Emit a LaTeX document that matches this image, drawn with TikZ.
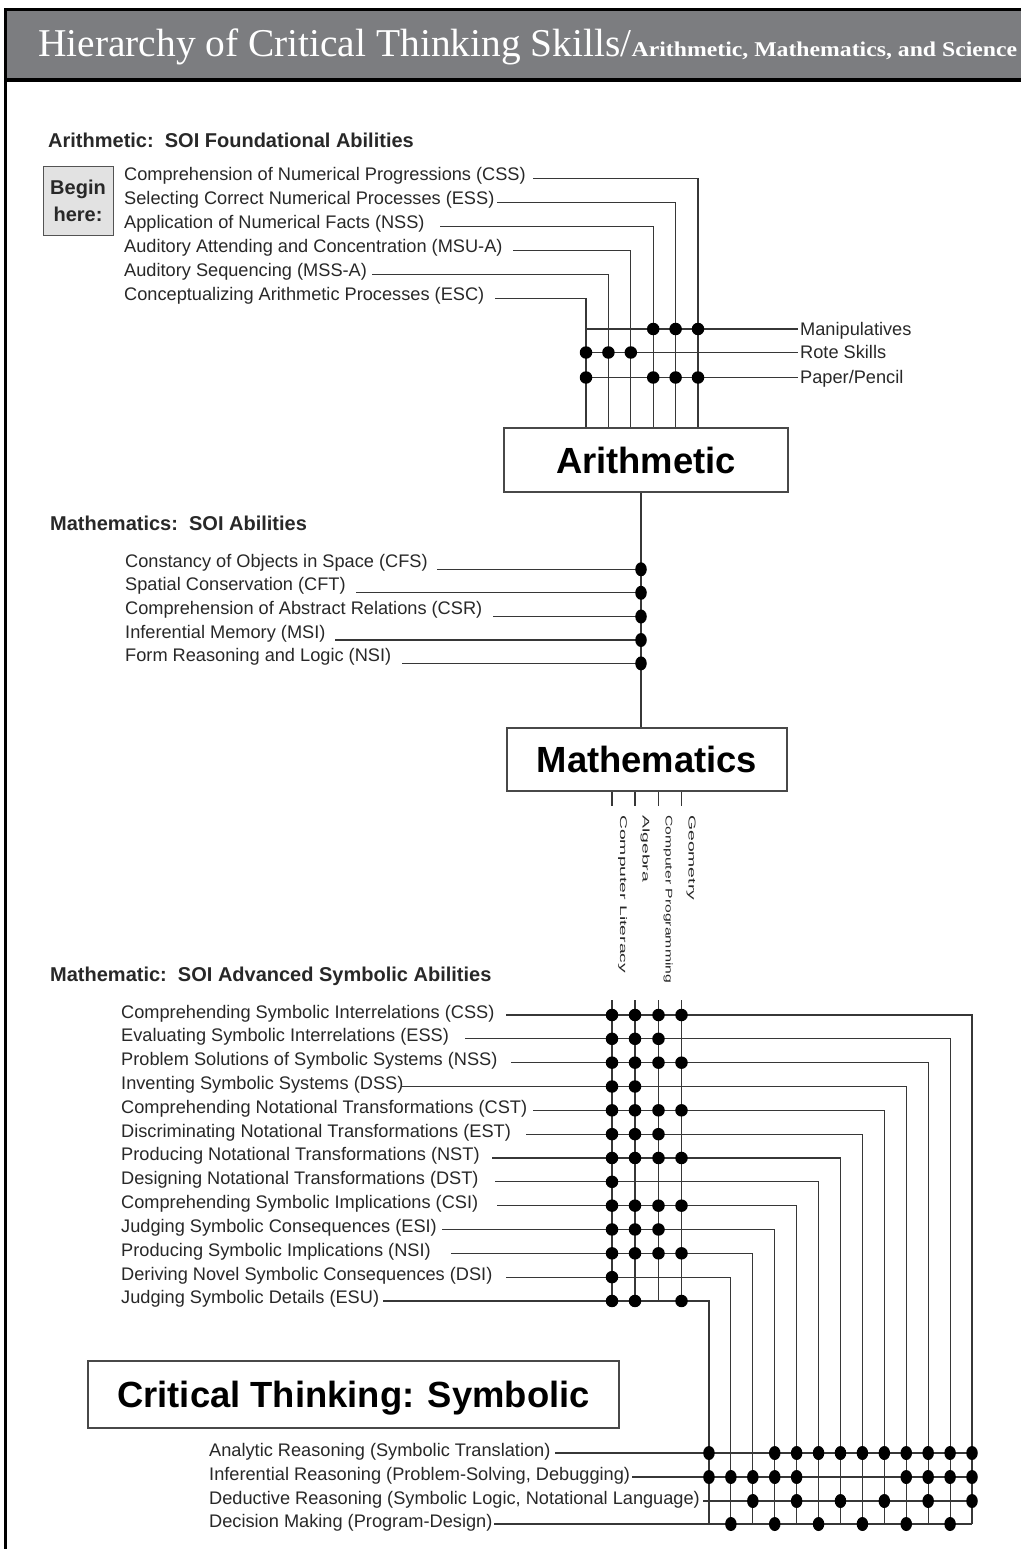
\documentclass[tikz,border=0pt]{standalone}
\usepackage{fontspec}
\setmainfont{Liberation Sans}
\newfontfamily\titleserif{Liberation Serif}
\usetikzlibrary{shapes.geometric}
\definecolor{hdrgray}{RGB}{124,125,128}
\definecolor{ink}{RGB}{40,40,40}
\definecolor{wiregray}{RGB}{55,55,55}
\definecolor{begingray}{RGB}{226,226,226}
\tikzset{
  lbl/.style={anchor=base west, inner sep=0pt, font=\fontsize{18.2}{20}\selectfont, text=ink},
  hdg/.style={anchor=base west, inner sep=0pt, font=\bfseries\fontsize{20}{22}\selectfont, text=ink},
  bigbox/.style={draw=ink!85, line width=1.2pt, fill=white, font=\bfseries\fontsize{36.4}{40}\selectfont, inner sep=0pt, text depth=0pt, text=black},
  wire/.style={draw=wiregray, line width=1.1pt},
  dotc/.style={circle, fill=black, inner sep=0pt, minimum size=12.5pt},
  doto/.style={ellipse, fill=black, inner sep=0pt, minimum width=11.5pt, minimum height=14pt},
  vlab/.style={rotate=-90, anchor=base west, inner sep=0pt, font=\fontsize{12}{12}\selectfont, text=ink},
}
\begin{document}
\begin{tikzpicture}[x=1pt,y=-1pt]
\useasboundingbox (0,0) rectangle (1021,1549);
\fill[white] (0,0) rectangle (1021,1549);
% ---------------- header
\fill[hdrgray] (5,10) rectangle (1021,80);
\draw[black,line width=3pt] (1021,10) -- (5,10) -- (5,1549);
\draw[black,line width=3.5pt] (5,80) -- (1021,80);
\node[anchor=base west, inner sep=0pt, text=white, font=\titleserif\fontsize{39.4}{40}\selectfont] (title) at (38,57) {Hierarchy of Critical Thinking Skills/};
\node[anchor=base west, inner sep=0pt, text=white, font=\titleserif\bfseries\fontsize{21}{22}\selectfont] (subtitle) at (title.base east) {\scalebox{1.13}[1]{Arithmetic, Mathematics, and Science}};

% ---------------- boxes
\node[bigbox, minimum width=284pt, minimum height=64pt] (arith) at (646,460) {Arithmetic};
\node[bigbox, minimum width=280pt, minimum height=63pt] (math) at (647,759.5) {Mathematics};
\node[bigbox, minimum width=531pt, minimum height=67pt] (crit) at (353.5,1394.5) {Critical Thinking: Symbolic};

% ---------------- arithmetic
\node[hdg] (hA) at (48,148) {Arithmetic:\ \ SOI Foundational Abilities};
\node[draw=ink!80, line width=1pt, fill=begingray, minimum width=70pt, minimum height=68pt, inner sep=0pt, align=center, font=\bfseries\fontsize{20}{27}\selectfont, text=ink] (begin) at (78,201) {Begin\\here:};

\foreach \i/\t/\s in {0/Comprehension of Numerical Progressions (CSS)/533,
                      1/Selecting Correct Numerical Processes (ESS)/497,
                      2/Application of Numerical Facts (NSS)/440,
                      3/Auditory Attending and Concentration (MSU-A)/513,
                      4/Auditory Sequencing (MSS-A)/372,
                      5/Conceptualizing Arithmetic Processes (ESC)/495}{
  \pgfmathsetmacro\yy{178.3+24*\i}
  \pgfmathsetmacro\vx{698-22.4*\i}
  \node[lbl] (ar\i) at (124,{\yy+2}) {\t};
  \coordinate (ars\i) at (\s,\yy);
  \coordinate (arv\i) at (\vx,\yy);
  \draw[wire] (ars\i) -- (arv\i) -- (arv\i |- arith.north);
}

\coordinate (mL0) at (586,329);   \coordinate (mR0) at (798,329);
\coordinate (mL1) at (586,352.5); \coordinate (mR1) at (798,352.5);
\coordinate (mL2) at (586,377.5); \coordinate (mR2) at (798,377.5);
\draw[wire] (mL0) -- (mR0);
\draw[wire] (mL1) -- (mR1);
\draw[wire] (mL2) -- (mR2);
\node[lbl] (manip) at (800,335) {Manipulatives};
\node[lbl] (rote) at (800,358.5) {Rote Skills};
\node[lbl] (paper) at (800,383.5) {Paper/Pencil};
\foreach \k in {0,1,2} \node[dotc] at (arv\k |- mL0) {};
\foreach \k in {3,4,5} \node[dotc] at (arv\k |- mL1) {};
\foreach \k in {0,1,2,5} \node[dotc] at (arv\k |- mL2) {};

% ---------------- mathematics
\node[hdg] (hM) at (50,530) {Mathematics:\ \ SOI Abilities};
\coordinate (mx) at (641,0);
\draw[wire] (arith.south -| mx) -- (math.north -| mx);
\foreach \i/\t/\s/\yy in {0/Constancy of Objects in Space (CFS)/437/569.3,
                          1/Spatial Conservation (CFT)/356/592.8,
                          2/Comprehension of Abstract Relations (CSR)/493/616.5,
                          3/Inferential Memory (MSI)/335/640,
                          4/Form Reasoning and Logic (NSI)/402/663.4}{
  \node[lbl] (ma\i) at (125,{\yy-2}) {\t};
  \coordinate (mas\i) at (\s,\yy);
  \draw[wire] (mas\i) -- (mas\i -| mx);
  \node[doto] at (mas\i -| mx) {};
}

% ticks and vertical labels below Mathematics
\foreach \k/\x in {1/612,2/635,3/658.5,4/681.5}{
  \coordinate (gc\k) at (\x,1000);
  \draw[wire] (math.south -| gc\k) -- ++(0,14);
}
\node[vlab] (vl1) at (620,815) {\resizebox{158pt}{7pt}{Computer Literacy}};
\node[vlab] (vl2) at (642.5,815) {\resizebox{67pt}{7pt}{Algebra}};
\node[vlab] (vl3) at (665.5,815) {\resizebox{168pt}{7pt}{Computer Programming}};
\node[vlab] (vl4) at (688.5,815) {\resizebox{85pt}{7pt}{Geometry}};

% ---------------- advanced symbolic
\node[hdg] (hS) at (50,981) {Mathematic:\ \ SOI Advanced Symbolic Abilities};
\foreach \i/\t/\s in {0/Comprehending Symbolic Interrelations (CSS)/506,
                      1/Evaluating Symbolic Interrelations (ESS)/465,
                      2/Problem Solutions of Symbolic Systems (NSS)/511,
                      3/Inventing Symbolic Systems (DSS)/402,
                      4/Comprehending Notational Transformations (CST)/533,
                      5/Discriminating Notational Transformations (EST)/526,
                      6/Producing Notational Transformations (NST)/492,
                      7/Designing Notational Transformations (DST)/495,
                      8/Comprehending Symbolic Implications (CSI)/497,
                      9/Judging Symbolic Consequences (ESI)/442,
                      10/Producing Symbolic Implications (NSI)/451,
                      11/Deriving Novel Symbolic Consequences (DSI)/506,
                      12/Judging Symbolic Details (ESU)/383}{
  \pgfmathsetmacro\yy{1015+23.83*\i}
  \pgfmathsetmacro\xx{972-21.92*\i}
  \node[lbl] (sy\i) at (121,{\yy+3}) {\t};
  \coordinate (ss\i) at (\s,\yy);
  \coordinate (st\i) at (\xx,\yy);
  \coordinate (sb\i) at (\xx,1524);
  \draw[wire] (ss\i) -- (st\i) -- (sb\i);
}
\foreach \k in {1,2,3,4} \draw[wire] (gc\k) -- (gc\k |- ss12);
\foreach \r/\c in {0/1,0/2,0/3,0/4, 1/1,1/2,1/3, 2/1,2/2,2/3,2/4, 3/1,3/2,
                   4/1,4/2,4/3,4/4, 5/1,5/2,5/3, 6/1,6/2,6/3,6/4, 7/1,
                   8/1,8/2,8/3,8/4, 9/1,9/2,9/3, 10/1,10/2,10/3,10/4, 11/1,
                   12/1,12/2,12/4}
  \node[dotc] at (gc\c |- ss\r) {};

% ---------------- critical thinking rows
\foreach \j/\t/\s/\yy in {0/Analytic Reasoning (Symbolic Translation)/555/1453,
                          1/{Inferential Reasoning (Problem-Solving, Debugging)}/632/1477,
                          2/{Deductive Reasoning (Symbolic Logic, Notational Language)}/703/1501,
                          3/Decision Making (Program-Design)/494/1524}{
  \node[lbl] (cr\j) at (209,{\yy+3}) {\t};
  \coordinate (cs\j) at (\s,\yy);
  \draw[wire] (cs\j) -- (st0 |- cs\j);
}
\foreach \r/\c in {0/0,0/3,0/4,0/5,0/6,0/7,0/8,0/9,0/10,0/11,0/12,
                   1/0,1/1,1/2,1/3,1/4,1/9,1/10,1/11,1/12,
                   2/2,2/4,2/6,2/8,2/10,2/12,
                   3/1,3/3,3/5,3/7,3/9,3/11}{
  \pgfmathtruncatemacro\cc{12-\c}
  \node[doto] at (st\cc |- cs\r) {};
}
\end{tikzpicture}
\end{document}
